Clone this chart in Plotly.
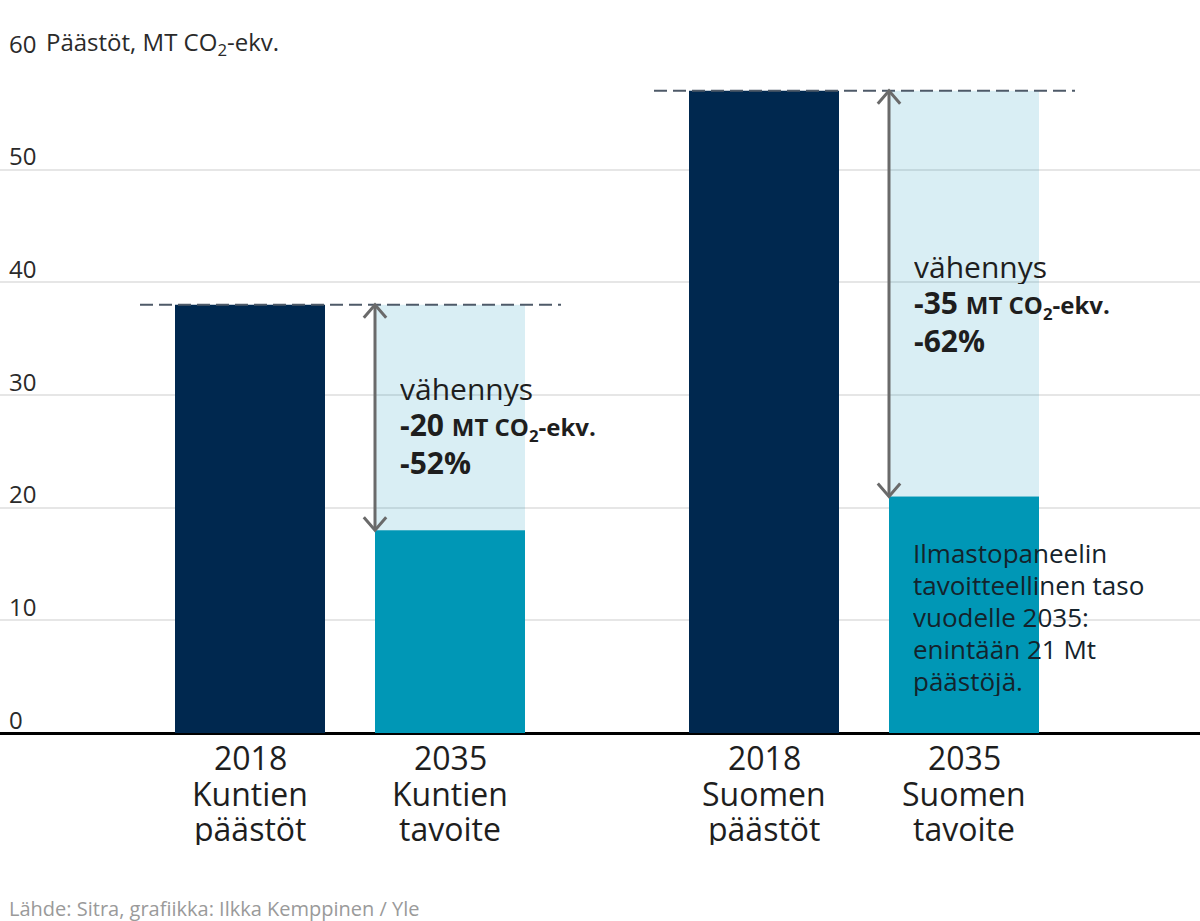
import plotly.graph_objects as go

# ---- data ----
groups = ["Kuntien", "Suomen"]
x_2018 = [0.0, 2.57]
x_2035 = [1.0, 3.57]
labels_2018 = [["2018", "Kuntien", "päästöt"], ["2018", "Suomen", "päästöt"]]
labels_2035 = [["2035", "Kuntien", "tavoite"], ["2035", "Suomen", "tavoite"]]
values_2018 = [38, 57]
values_2035 = [18, 21]
reduction_text = ["-20", "-35"]
reduction_pct = ["-52%", "-62%"]
note_lines = ["Ilmastopaneelin", "tavoitteellinen taso", "vuodelle 2035:",
              "enintään 21 Mt", "päästöjä."]
y_ticks = [0, 10, 20, 30, 40, 50, 60]

NAVY = "#00284f"
TEAL = "#0097b6"
LIGHT = "rgba(2,142,182,0.15)"
FONT = "Open Sans"
TXT = "#1e1e1e"
BW = 0.75

fig = go.Figure()
fig.add_trace(go.Bar(x=x_2018, y=values_2018, width=BW, marker_color=NAVY,
                     marker_line_width=0, hoverinfo="skip"))
fig.add_trace(go.Bar(x=x_2035, y=values_2035, width=BW, marker_color=TEAL,
                     marker_line_width=0, hoverinfo="skip"))
fig.add_trace(go.Bar(x=x_2035, y=[a - b for a, b in zip(values_2018, values_2035)],
                     base=values_2035, width=BW, marker_color=LIGHT,
                     marker_line_width=0, hoverinfo="skip"))

shapes = []
annotations = []
for i in range(2):
    top = values_2018[i]
    low = values_2035[i]
    shapes.append(dict(type="line", xref="x", yref="y",
                       x0=x_2018[i] - 0.55, x1=x_2035[i] + 0.555, y0=top, y1=top,
                       line=dict(color="#4e5a68", width=2, dash="13px,6px")))
    ax = x_2035[i] - BW / 2
    shapes.append(dict(type="line", xref="x", yref="y", x0=ax, x1=ax, y0=top, y1=low,
                       line=dict(color="#6a6a6a", width=3)))
    dx, dy = 0.056, 1.15
    shapes.append(dict(type="path", xref="x", yref="y",
                       path=f"M {ax-dx},{top-dy} L {ax},{top} L {ax+dx},{top-dy}",
                       line=dict(color="#6a6a6a", width=3)))
    shapes.append(dict(type="path", xref="x", yref="y",
                       path=f"M {ax-dx},{low+dy} L {ax},{low} L {ax+dx},{low+dy}",
                       line=dict(color="#6a6a6a", width=3)))


def add_line(x, y, text, size, color=TXT, yshift=0, xref="x", yref="y",
             xanchor="left", height=None):
    a = dict(xref=xref, yref=yref, x=x, y=y, xanchor=xanchor,
             yanchor="middle", yshift=yshift, showarrow=False, valign="middle",
             text=text, font=dict(family=FONT, size=size, color=color))
    if height is not None:
        a["height"] = height
    annotations.append(a)


# reduction text blocks (first-line anchor height, lines 37 px apart)
text_y = [30.6, 41.45]
for i in range(2):
    tx = x_2035[i] - BW / 2 + 0.115
    add_line(tx, text_y[i], "vähennys", 30, height=35)
    add_line(tx, text_y[i],
             f"<b>{reduction_text[i]} <span style='font-size:24px'>MT CO<sub>2</sub>-ekv.</span></b>",
             30, yshift=-37, height=35)
    add_line(tx, text_y[i], f"<b>{reduction_pct[i]}</b>", 30, yshift=-74, height=35)

# note inside the Suomen target bar
for k, line in enumerate(note_lines):
    add_line(x_2035[1] - BW / 2 + 0.11, 15.98, line, 26, color="#14232c",
             yshift=-32 * k, height=30)

# category labels
for xs, labs in ((x_2018, labels_2018), (x_2035, labels_2035)):
    for xv, lab in zip(xs, labs):
        for k, line in enumerate(lab):
            add_line(xv, 0, line, 32, yref="paper", xanchor="center",
                     yshift=-24 - 35.5 * k, height=34)

# y tick labels
for t in y_ticks:
    add_line(0.006, t, str(t), 24, color="#2a2a2a", xref="paper", yshift=14)
add_line(0.037, 60, "Päästöt, MT CO<sub>2</sub>-ekv.", 24, color="#2a2a2a",
         xref="paper", yshift=14)

add_line(0.006, 0, "Lähde: Sitra, grafiikka: Ilkka Kemppinen / Yle", 20,
         color="#9a9a9a", xref="paper", yref="paper", yshift=-175)

fig.update_layout(
    width=1200, height=921,
    margin=dict(l=0, r=0, t=57, b=188),
    barmode="overlay",
    showlegend=False,
    plot_bgcolor="white", paper_bgcolor="white",
    xaxis=dict(range=[-1.25, 4.75], showgrid=False, showticklabels=False,
               zeroline=False, fixedrange=True),
    yaxis=dict(range=[0, 60], tickvals=y_ticks, showticklabels=False,
               gridcolor="#e6e6e6", gridwidth=2, zeroline=True,
               zerolinecolor="#000000", zerolinewidth=3, fixedrange=True),
    shapes=shapes,
    annotations=annotations,
)

fig.write_html("out.html", config={"displayModeBar": False},
               post_script="document.body.style.margin='0px';")
